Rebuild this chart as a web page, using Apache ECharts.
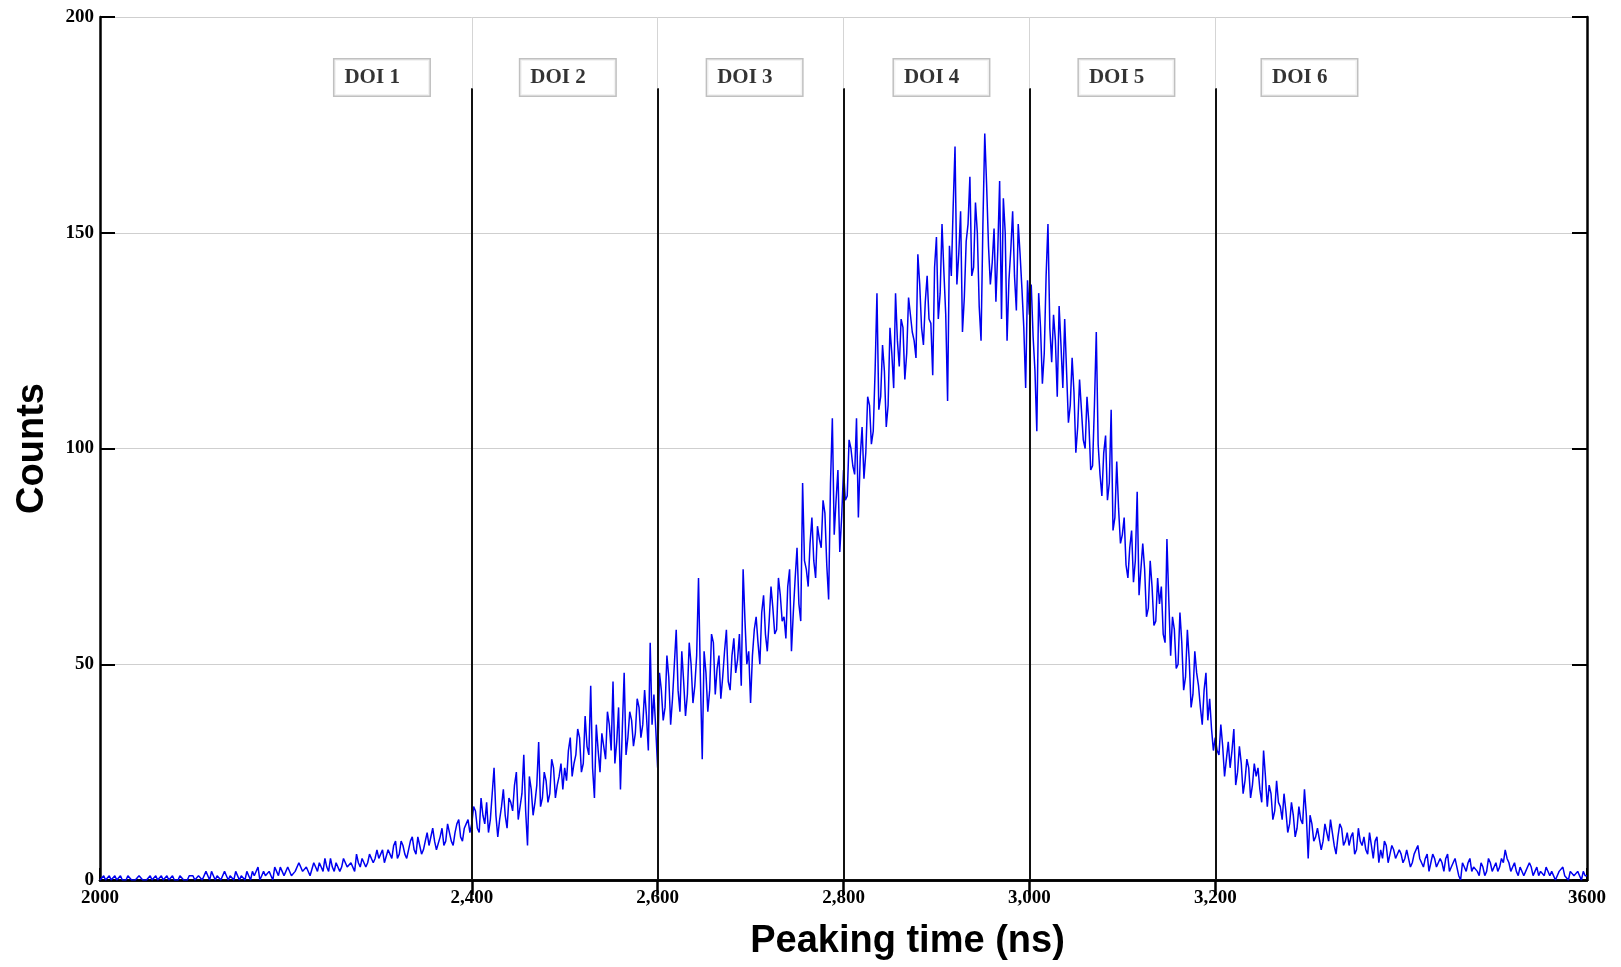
<!DOCTYPE html>
<html>
<head>
<meta charset="utf-8">
<script src="https://cdn.jsdelivr.net/npm/echarts@6/dist/echarts.min.js"></script>
<style>
html,body{margin:0;padding:0;background:#fff;}
#chart{width:1621px;height:967px;}
</style>
</head>
<body>
<div id="chart"></div>
<script>
// ---- data: counts per 2 ns bin ----
// "even" arrays: bins at 2000, 2004, 2008 ... ; "odd" arrays: bins at 2002, 2006, 2010 ...
const binStart = 2000;
const binWidth = 2;
const even2000 = [0,1,0,0,1,0,0,0,1,0,0,1,0,0,0,1,0,0,1,0,0,0,1,0,1];
const even2100 = [1,0,1,0,1,2,0,1,0,1,1,0,2,1,0,1,2,1,0,2,1,1,3,1,2];
const even2200 = [2,3,1,2,4,2,3,1,3,4,2,3,5,2,4,3,5,3,4,6,3,5,4,6,5];
const even2300 = [5,7,4,6,8,5,9,6,7,10,6,8,7,11,8,9,7,12,9,11,8,13,10,12,14];
const even2400 = [13,16,11,15,18,14,26,10,17,15,19,16,25,17,29,8,21,18,32,19,23,20,26,22,27];
const even2500 = [26,30,24,29,33,27,31,45,19,30,34,28,36,46,32,21,48,33,37,34,40,36,38,55,43];
const even2600 = [26,44,40,47,42,58,39,46,43,50,45,70,28,48,44,55,49,42,53,46,52,48,57,72,50];
const even2700 = [41,58,55,62,57,60,63,58,66,61,68,53,70,64,92,72,78,74,82,77,85,65,107,88,76];
const even2800 = [95,89,100,94,84,105,99,110,104,136,112,118,110,122,136,119,128,122,131,125,145,128,134,130,117];
const even2900 = [149,136,141,111,140,170,145,127,148,163,142,150,125,173,147,143,134,162,158,125,146,140,152,137,114];
const even3000 = [131,126,104,128,122,152,120,125,133,114,118,110,113,105,109,100,106,96,127,94,99,88,109,84,86];
const even3100 = [80,73,77,69,90,66,72,63,68,60,64,57,79,52,58,50,55,47,51,43,48,40,44,37,35];
const even3200 = [33,29,31,28,26,35,25,27,23,26,22,24,21,30,17,20,16,18,14,16,13,15,12,14,21];
const even3300 = [5,13,10,12,9,11,14,8,10,12,9,8,11,7,9,10,6,8,9,4,5,8,6,7,5];
const even3400 = [6,5,7,4,6,5,3,6,4,5,3,4,5,2,4,3,0,3,4,2,3,1,3,2,4];
const even3500 = [3,2,5,7,4,3,2,3,1,2,3,2,1,2,3,1,2,1,2,1,0,2,1,1,2];
const even3600 = [1];

const odd2000 = [0,0,1,0,0,1,0,1,0,0,1,0,0,1,0,0,1,0,0,1,0,1,0,0,1];
const odd2100 = [0,1,0,2,0,1,1,0,2,0,1,2,0,1,2,0,1,3,1,1,2,0,2,3,1];
const odd2200 = [3,1,2,4,2,3,1,4,2,3,5,2,3,4,2,5,3,4,2,4,5,3,6,4,7];
const odd2300 = [6,4,7,5,9,6,8,5,9,7,10,6,9,8,12,7,10,8,13,9,11,14,9,13,11];
const odd2400 = [17,12,19,13,11,20,15,14,21,12,18,22,14,20,16,24,15,22,17,25,18,28,19,24,21];
const odd2500 = [23,33,27,35,25,38,29,26,36,25,31,39,30,27,40,35,29,39,31,42,33,44,30,36,35];
const odd2600 = [48,37,52,36,50,44,53,38,55,41,52,47,53,39,57,43,52,47,58,44,56,51,45,60,53];
const odd2700 = [52,61,50,66,53,68,57,70,60,56,72,62,77,60,74,68,84,70,79,88,73,92,80,95,84];
const odd2800 = [88,102,96,107,98,93,112,101,118,109,124,105,128,114,125,130,116,135,127,121,138,124,140,129,142];
const odd2900 = [130,152,131,147,156,138,155,135,152,140,157,133,152,161,138,151,146,130,150,139,155,132,145,128,139];
const odd3000 = [138,118,136,115,140,128,131,112,124,130,106,121,99,116,102,112,95,110,101,89,103,92,81,97,78];
const odd3100 = [84,70,81,74,66,78,61,74,59,70,68,55,65,61,49,62,44,58,40,53,45,36,48,42,30];
const odd3200 = [30,36,24,32,30,22,31,20,28,19,27,26,18,24,22,14,23,17,20,11,18,10,17,13,15];
const odd3300 = [15,9,12,7,13,9,11,6,13,8,11,10,6,12,8,7,11,5,10,7,9,4,8,5,7];
const odd3400 = [4,7,3,6,8,4,5,2,6,3,5,2,6,3,5,1,4,2,5,3,2,4,1,5,2];
const odd3500 = [4,3,4,5,2,4,1,3,2,4,1,3,2,1,3,2,0,2,3,1,2,1,2,0,1];

const xTickValues = [2000, 2400, 2600, 2800, 3000, 3200, 3600];
const xTickLabels = ['2000', '2,400', '2,600', '2,800', '3,000', '3,200', '3600'];
const doiBoundaries = [2400, 2600, 2800, 3000, 3200];
const doiLabels = ['DOI 1', 'DOI 2', 'DOI 3', 'DOI 4', 'DOI 5', 'DOI 6'];
const doiCenters = [2305, 2505, 2706, 2907, 3106, 3303];
const doiLabelY = 186;
const boundaryTop = 183.5;

// ---- build ----
const evenCounts = [].concat(even2000, even2100, even2200, even2300, even2400, even2500,
  even2600, even2700, even2800, even2900, even3000, even3100, even3200, even3300,
  even3400, even3500, even3600);
const oddCounts = [].concat(odd2000, odd2100, odd2200, odd2300, odd2400, odd2500,
  odd2600, odd2700, odd2800, odd2900, odd3000, odd3100, odd3200, odd3300,
  odd3400, odd3500);
const allCounts = [];
for (let i = 0; i < evenCounts.length; i++) {
  allCounts.push(evenCounts[i]);
  if (i < oddCounts.length) allCounts.push(oddCounts[i]);
}
const seriesData = allCounts.map((c, i) => [binStart + i * binWidth, c]);

const boundaryLines = doiBoundaries.map(b => [{coord: [b, 0]}, {coord: [b, boundaryTop]}]);
const boundaryGrid = doiBoundaries.map(b => [{coord: [b, boundaryTop]}, {coord: [b, 200]}]);

const serif = "'Liberation Serif', 'DejaVu Serif', serif";
const sans = "'Liberation Sans', Arial, sans-serif";

const chart = echarts.init(document.getElementById('chart'), null, {renderer: 'canvas'});
chart.setOption({
  backgroundColor: '#fff',
  animation: false,
  grid: {left: 100, right: 34, top: 17, bottom: 87, containLabel: false},
  xAxis: [{
    type: 'value', min: 2000, max: 3600, interval: 200, position: 'bottom',
    axisLine: {show: true, lineStyle: {color: '#000', width: 2.5}},
    axisTick: {show: true, inside: true, length: 12, customValues: xTickValues, lineStyle: {color: '#000', width: 2}},
    axisLabel: {
      customValues: xTickValues,
      formatter: v => { const i = xTickValues.indexOf(v); return i < 0 ? '' : xTickLabels[i]; },
      fontFamily: serif, fontWeight: 'bold', fontSize: 19, color: '#000', margin: 9
    },
    splitLine: {show: false},
    name: 'Peaking time (ns)', nameLocation: 'middle', nameGap: 43,
    nameTextStyle: {fontFamily: sans, fontWeight: 'bold', fontSize: 38, color: '#000', padding: [0, 0, 0, 128]}
  }, {
    type: 'value', min: 2000, max: 3600, interval: 200, position: 'top',
    axisLine: {show: true, lineStyle: {color: '#000', width: 2.5}},
    axisTick: {show: true, inside: true, length: 15, customValues: doiBoundaries, lineStyle: {color: '#000', width: 2.5}},
    axisLabel: {show: false},
    splitLine: {show: false}
  }],
  yAxis: [{
    type: 'value', min: 0, max: 200, interval: 50, position: 'left',
    axisLine: {show: true, lineStyle: {color: '#000', width: 2.5}},
    axisTick: {show: true, inside: true, length: 15, lineStyle: {color: '#000', width: 2}},
    axisLabel: {fontFamily: serif, fontWeight: 'bold', fontSize: 19, color: '#000', margin: 6},
    splitLine: {show: true, lineStyle: {color: '#cfcfcf', width: 1}},
    name: 'Counts', nameLocation: 'middle', nameGap: 48, nameRotate: 90,
    nameTextStyle: {fontFamily: sans, fontWeight: 'bold', fontSize: 38, color: '#000'}
  }, {
    type: 'value', min: 0, max: 200, interval: 50, position: 'right',
    axisLine: {show: true, lineStyle: {color: '#000', width: 2.5}},
    axisTick: {show: true, inside: true, length: 15, lineStyle: {color: '#000', width: 2}},
    axisLabel: {show: false},
    splitLine: {show: false}
  }],
  series: [{
    type: 'line',
    xAxisIndex: 0, yAxisIndex: 0,
    data: seriesData,
    showSymbol: false,
    symbol: 'none',
    lineStyle: {color: '#0000f0', width: 1.5},
    z: 3,
    markLine: {
      silent: true, symbol: 'none', animation: false,
      label: {show: false},
      data: boundaryLines,
      lineStyle: {color: '#111', width: 2, type: 'solid'}
    }
  }, {
    type: 'line',
    xAxisIndex: 0, yAxisIndex: 0,
    data: [],
    markLine: {
      silent: true, symbol: 'none', animation: false,
      label: {show: false},
      data: boundaryGrid,
      lineStyle: {color: '#d5d5d5', width: 1, type: 'solid'}
    }
  }, {
    type: 'scatter',
    xAxisIndex: 0, yAxisIndex: 0,
    symbolSize: 0,
    silent: true,
    z: 5,
    data: doiLabels.map((t, i) => ({value: [doiCenters[i], doiLabelY], name: t})),
    label: {
      show: true, position: 'inside',
      formatter: p => p.name,
      fontFamily: serif, fontWeight: 'bold', fontSize: 21, color: '#000',
      backgroundColor: '#fff', borderColor: '#b0b0b0', borderWidth: 1.5,
      padding: [7, 10, 7, 10], width: 75, align: 'left', lineHeight: 22,
      offset: [-49, 0]
    }
  }]
});
</script>
</body>
</html>
